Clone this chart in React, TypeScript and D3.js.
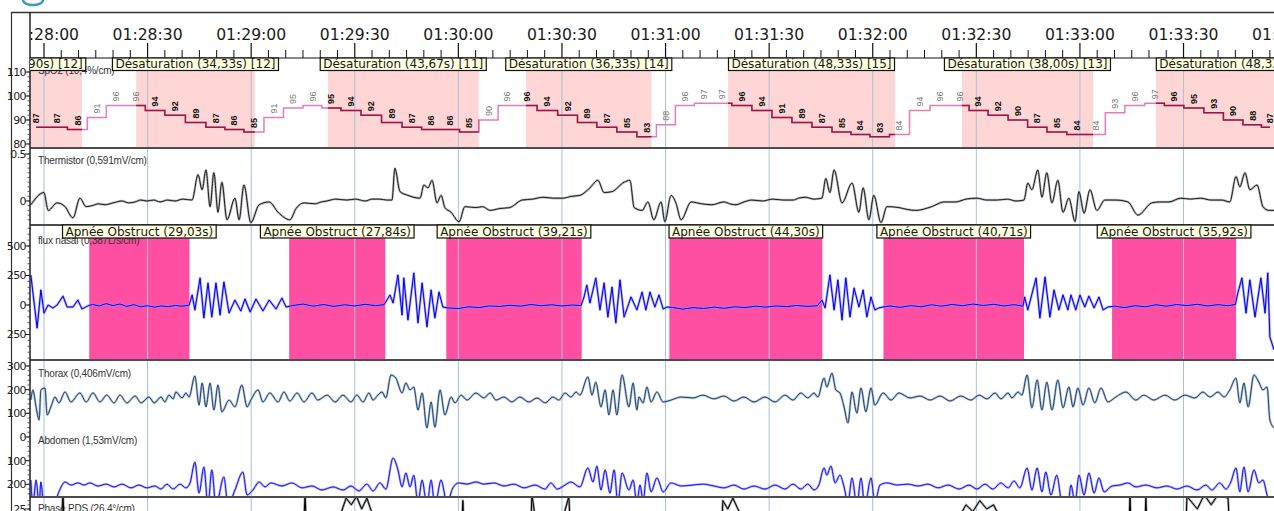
import React, { useEffect, useRef } from 'react';
import * as d3 from 'd3';

type Pt = [number, number];

// time in seconds relative to 01:28:00
const T_MIN = -4.05;
const T_MAX = 356.2;
const timeTickSecs = [0, 30, 60, 90, 120, 150, 180, 210, 240, 270, 300, 330, 360];
const timeTickLabels = ['01:28:00', '01:28:30', '01:29:00', '01:29:30', '01:30:00', '01:30:30', '01:31:00',
  '01:31:30', '01:32:00', '01:32:30', '01:33:00', '01:33:30', '01:34:00'];

// scored events
const desatStart = [-34.9, 26.7, 82.2, 139.6, 198.1, 265.8, 322.0];
const desatDur = [45.9, 34.33, 43.67, 36.33, 48.33, 38.0, 48.33];
const desatTag = [12, 12, 11, 14, 15, 13, 15];
const apneaStart = [13.1, 71.0, 116.5, 181.1, 243.1, 309.3];
const apneaDur = [29.03, 27.84, 39.21, 44.3, 40.71, 35.92];

// SpO2 samples (%)
const spo2Times = [-2.3, 3.8, 9.8, 15.3, 20.8, 26.6, 32.1, 37.9, 44.0, 49.8, 55.0, 60.8, 66.6, 72.1, 77.9, 83.1,
  88.9, 94.7, 100.8, 106.6, 112.1, 117.6, 123.1, 128.9, 134.1, 139.9, 145.7, 151.8, 157.2, 163.0, 168.8, 174.6,
  180.1, 185.6, 191.1, 196.3, 202.1, 207.9, 213.7, 219.5, 225.3, 231.1, 236.3, 242.1, 247.6, 253.7, 259.5, 265.3,
  270.5, 276.3, 282.1, 287.6, 293.3, 299.1, 304.6, 310.1, 315.9, 321.7, 327.2, 333.0, 338.8, 344.3, 350.1, 355.0];
const spo2Values = [87, 87, 86, 91, 96, 96, 94, 92, 89, 87, 86, 85, 91, 95, 96, 95,
  94, 92, 89, 87, 86, 86, 85, 90, 96, 96, 94, 92, 89, 87, 85, 83,
  88, 96, 97, 97, 96, 94, 91, 89, 87, 85, 84, 83, 84, 94, 96, 96,
  94, 92, 90, 87, 85, 84, 84, 93, 96, 97, 96, 95, 93, 90, 88, 87];

const thermistor: Pt[] = [[-3.8, -0.04], [0, 0.09], [1.2, -0.1], [3.8, -0.02], [6.1, -0.06], [8.4, -0.18], [10.4, 0.03],
  [12.2, -0.06], [13.9, -0.05], [15.8, -0.03], [17.7, -0.04], [20.0, -0.02], [22.6, 0], [24.5, -0.02], [26.4, -0.01],
  [28.0, 0.01], [29.8, 0], [31.8, 0.01], [33.6, -0.01], [35.8, 0.01], [37.9, 0], [40.2, 0.02], [42.9, 0.01],
  [44.6, 0.28], [45.8, 0.12], [46.9, 0.33], [48.1, -0.06], [49.2, 0.3], [50.4, -0.12], [51.5, 0.2], [53.0, -0.2],
  [55.3, 0.03], [56.5, -0.2], [57.9, 0.17], [59.9, -0.23], [62.3, -0.04], [65.2, -0.01], [67.8, -0.12], [71.2, -0.2],
  [73.0, -0.08], [75.3, -0.02], [78.5, -0.03], [80.3, -0.01], [81.9, 0], [84.5, 0.02], [87.7, 0.01], [90.2, 0.02],
  [93.0, 0], [95.0, 0.02], [97.3, 0.02], [99.2, 0.01], [100.8, 0.01], [101.6, 0.35], [103.1, 0.1], [105.4, 0.06],
  [108.9, 0.03], [110.0, 0.17], [111.2, 0.14], [112.4, 0.22], [113.8, -0.02], [115.0, 0.06], [116.1, -0.07],
  [117.9, -0.12], [120.2, -0.22], [121.9, -0.06], [125.1, -0.07], [127.0, -0.06], [129.2, -0.1], [132.0, -0.08],
  [134.9, -0.07], [138.4, 0.01], [141.5, 0.02], [144.5, 0.04], [147.5, 0.03], [150.3, 0.03], [152.8, 0.05],
  [155.2, 0.06], [158.1, 0.14], [160.4, 0.22], [162.2, 0.09], [164.5, 0.1], [168.0, 0.2], [169.7, 0.22],
  [170.9, -0.07], [173.2, -0.1], [174.9, -0.01], [176.6, -0.2], [178.7, -0.01], [179.8, -0.22], [181.6, 0.06],
  [183.0, -0.02], [184.5, -0.2], [187.4, -0.01], [190.5, -0.03], [193.4, -0.04], [196.9, -0.01], [198.6, -0.03],
  [200.4, -0.04], [202.7, -0.01], [205.0, 0.01], [208.0, 0], [211.1, 0.02], [214.0, 0.01], [216.9, 0.01],
  [218.6, 0.03], [220.4, 0.04], [223.0, 0.02], [225.3, 0.03], [226.4, 0.24], [227.6, 0.09], [228.8, 0.33],
  [231.1, -0.02], [234.0, 0.19], [236.0, -0.12], [237.2, 0.14], [238.9, -0.2], [240.3, 0.06], [242.4, -0.23],
  [244.1, -0.06], [247.6, -0.07], [250.0, -0.09], [252.5, -0.1], [257.1, -0.06], [260.6, -0.01], [264.1, -0.01],
  [267.0, 0.02], [270.2, 0.03], [273.0, 0.01], [276.0, 0.01], [279.0, 0.02], [281.5, 0], [283.8, 0.01],
  [284.9, 0.19], [286.1, 0.12], [287.8, 0.33], [289.0, 0.04], [290.4, 0.3], [291.9, -0.02], [293.6, 0.22],
  [295.1, -0.12], [296.8, 0.03], [298.6, -0.22], [299.7, 0.1], [301.2, -0.13], [302.9, 0.12], [304.9, -0.1],
  [307.2, 0.01], [310.4, 0.01], [313.9, -0.01], [316.8, -0.15], [320.8, -0.02], [323.0, -0.01], [325.8, -0.01],
  [329.2, 0.03], [332.0, 0.02], [335.0, 0.03], [338.0, 0.01], [341.1, 0.01], [343.4, -0.01], [345.2, 0.26],
  [346.3, 0.15], [347.8, 0.3], [349.2, 0.12], [351.3, 0.17], [353.0, -0.06], [354.7, -0.1], [356.2, -0.1]];

const fluxNasal: Pt[] = [[-3.8, 254], [-2.0, -195], [-0.9, 127], [0, -68], [1.2, 0], [2.6, -25], [3.8, 0], [5.5, 76],
  [6.7, -17], [8.4, -17], [9.8, 42], [11.0, -34], [12.7, -8],
  [14, 5], [16, -8], [18, 12], [20, -5], [22, 8], [24, -12], [26, 3], [28, -15], [30, -6], [32, -18], [34, -8],
  [36, -14], [38, -4], [40, -10], [42, -2],
  [42.9, 85], [43.7, -42], [45.2, 229], [46.3, -110], [47.5, 186], [48.6, -102], [49.8, 186], [51.0, -85],
  [52.1, 195], [53.6, -68], [55.3, 42], [57.0, -51], [58.2, 51], [59.7, -59], [61.4, 51], [63.4, -51], [65.2, 42],
  [67.2, -34], [68.9, 59], [70.1, -17],
  [72, -5], [75, 8], [78, -10], [81, 4], [84, -12], [87, 2], [90, -8], [93, 6], [96, -6], [98.5, 3],
  [100.2, 85], [101.1, 17], [102.5, 254], [103.7, -85], [104.2, 229], [105.4, -127], [107.1, 271], [108.3, -152],
  [109.5, 186], [110.9, -186], [112.1, 127], [113.2, -110], [114.4, 110], [115.5, -17],
  [117, -25], [120, -30], [123, -15], [126, -22], [129, -8], [132, -12], [135, -2], [138, -10], [141, 4], [144, -6],
  [147, 2], [150, -8], [153, 0], [155.5, -5],
  [156.4, 68], [157.2, 169], [158.1, 17], [159.8, 229], [161.0, -42], [162.2, 186], [163.3, -102], [164.5, 152],
  [165.6, -152], [166.8, 212], [168.0, -102], [170.0, 68], [171.7, -42], [173.2, 110], [174.3, -42], [175.5, 110],
  [176.9, -17], [178.1, 85], [179.3, -34], [180.4, -17],
  [182, -20], [185, -35], [188, -22], [191, -30], [194, -18], [197, -28], [200, -15], [203, -22], [206, -10],
  [209, -18], [212, -8], [215, -14], [218, -4], [221, -12], [224, -6],
  [225.3, 42], [226.2, -25], [227.6, 254], [228.8, -42], [229.9, 212], [231.1, -127], [232.2, 229], [233.4, -102],
  [234.6, 144], [236.0, -17], [237.2, 127], [238.3, -102], [239.5, 68], [240.6, -42], [241.8, -25], [243.0, -17],
  [245, -8], [248, -20], [251, -5], [254, -15], [257, 2], [260, -10], [263, 5], [266, -6], [269, 8], [272, -4],
  [275, 6], [278, -8], [281, 3], [283.5, -10],
  [284.0, 68], [284.9, -42], [287.3, 229], [288.4, -110], [289.9, 237], [291.3, -102], [292.5, 127], [293.9, -42],
  [295.1, 85], [296.5, -42], [297.4, 85], [298.8, -42], [300.0, 85], [301.4, -17], [302.6, 76], [304.1, -25],
  [305.5, 68], [306.7, -42], [308.1, -17],
  [310, -10], [313, -22], [316, -6], [319, -15], [322, 2], [325, -10], [328, 4], [331, -5], [334, 6], [337, -8],
  [340, 3], [343, -6], [345, 5],
  [345.8, 110], [346.9, 229], [348.1, -68], [349.2, 212], [350.7, -102], [352.4, 229], [353.6, -68], [354.4, 271],
  [355.0, -271], [356.2, -380]];

const thorax: Pt[] = [[-3.8, 156], [-3.2, 199], [-2.3, 127], [-1.4, 72], [-0.9, 199], [0.3, 207], [0.9, 93], [2.0, 127],
  [3.2, 169], [4.3, 144], [6.1, 190], [7.8, 148], [10.4, 186], [12.2, 148], [14.2, 186], [16.2, 148], [18.2, 177],
  [20.3, 144], [22.0, 177], [24.0, 144], [26.4, 173], [28.1, 144], [30.4, 169], [31.9, 144], [33.9, 169], [35.0, 148],
  [36.2, 177], [37.4, 161], [38.2, 190], [40.0, 165], [41.1, 186], [42.0, 169],
  [43.7, 258], [44.9, 135], [45.8, 228], [46.9, 127], [48.1, 228], [49.2, 114], [50.4, 220], [51.5, 106], [53.6, 156],
  [55.3, 127], [57.3, 220], [58.8, 127], [59.9, 156], [62.0, 199], [63.4, 148], [65.4, 186], [67.8, 148], [69.5, 190],
  [71.2, 152], [73.3, 186], [75.3, 148], [77.6, 186], [79.3, 156], [82.0, 177], [84.3, 148], [86.6, 177], [88.9, 148],
  [90.6, 177], [92.4, 148], [94.1, 186], [95.3, 156], [96.7, 177], [97.9, 190], [99.0, 165],
  [100.5, 262], [101.9, 249], [103.7, 186], [104.8, 228], [106.0, 199], [107.1, 211], [108.3, 114], [109.5, 186],
  [110.9, 38], [112.1, 148], [113.2, 42], [114.7, 199], [116.1, 93], [117.9, 169], [119.0, 144], [120.8, 177],
  [122.5, 156], [125.1, 186], [127.4, 165], [129.2, 186], [130.9, 156], [133.2, 169], [135.5, 148], [137.8, 169],
  [140.4, 148], [142.8, 165], [145.1, 144], [147.4, 169], [149.1, 156], [150.9, 186], [152.6, 169], [154.1, 190],
  [155.2, 177],
  [157.5, 254], [158.7, 177], [159.8, 232], [161.3, 127], [162.5, 199], [163.6, 93], [164.8, 199], [165.9, 93],
  [167.4, 262], [169.4, 127], [170.6, 228], [171.7, 114], [172.3, 169], [173.5, 144], [174.6, 211], [175.8, 148],
  [177.5, 190], [179.3, 148], [181.6, 156], [184.5, 169], [187.9, 165], [190.8, 177], [194.0, 161], [196.9, 173],
  [199.8, 152], [202.7, 169], [205.6, 148], [208.8, 169], [211.7, 148], [214.6, 177], [216.9, 156], [219.2, 186],
  [221.2, 165], [223.0, 186], [224.1, 169],
  [225.9, 249], [226.7, 211], [228.2, 270], [229.3, 199], [230.5, 186], [231.7, 127], [232.8, 59], [234.0, 190],
  [235.4, 101], [236.6, 207], [238.0, 106], [239.5, 207], [240.6, 135], [243.0, 186], [245.3, 156], [247.6, 186],
  [250.8, 165], [253.7, 173], [256.6, 156], [259.5, 173], [262.4, 152], [265.5, 173], [268.4, 156], [270.8, 177],
  [273.1, 161], [275.4, 186], [277.1, 161], [279.2, 186], [280.3, 165], [282.1, 190], [283.2, 177],
  [284.7, 262], [286.1, 123], [287.6, 241], [289.0, 114], [290.4, 232], [291.9, 114], [293.6, 241], [295.1, 123],
  [296.8, 211], [298.0, 127], [299.4, 207], [300.9, 135], [302.6, 207], [304.3, 144], [306.1, 207], [308.1, 148],
  [310.4, 169], [313.3, 190], [316.2, 156], [318.5, 177], [321.4, 156], [324.6, 177], [327.5, 156], [330.4, 177],
  [333.3, 165], [335.6, 190], [337.6, 169], [340.0, 190], [341.7, 169], [343.4, 199],
  [345.2, 249], [346.3, 144], [347.5, 228], [348.7, 127], [350.4, 262], [351.8, 232], [353.0, 199], [354.2, 211],
  [355.0, 72], [356.2, 38]];

const abdomen: Pt[] = [[-3.8, -182], [-3.2, -290], [-2.3, -182], [-1.4, -290], [-0.9, -190], [0, -300], [2.6, -300],
  [4.3, -232], [6.1, -190], [7.8, -203], [9.8, -194], [11.6, -203], [13.3, -194], [15.6, -207], [18.0, -199],
  [20.3, -211], [22.6, -199], [25.2, -215], [27.5, -203], [29.8, -215], [32.1, -207], [33.9, -220], [35.6, -199],
  [37.4, -220], [39.4, -199], [41.1, -215], [42.3, -194],
  [43.7, -106], [44.9, -237], [46.3, -127], [47.5, -290], [48.6, -139], [49.8, -290], [52.1, -169], [53.3, -290],
  [55.3, -224], [57.6, -148], [58.8, -245], [60.5, -224], [62.3, -190], [64.0, -211], [65.7, -194], [68.9, -207],
  [71.8, -194], [74.7, -215], [77.6, -207], [80.5, -224], [83.7, -211], [86.6, -224], [88.9, -207], [91.2, -228],
  [93.5, -199], [95.3, -228], [97.3, -194], [99.0, -220],
  [101.1, -89], [102.5, -139], [103.7, -211], [104.8, -152], [106.0, -211], [107.1, -161], [108.3, -280],
  [109.5, -182], [110.9, -290], [112.1, -182], [113.2, -290], [115.0, -182], [116.7, -280], [118.4, -215],
  [120.2, -194], [122.5, -199], [125.1, -190], [127.4, -199], [130.3, -194], [133.2, -207], [136.1, -199],
  [139.0, -215], [142.2, -203], [145.1, -220], [146.8, -194], [148.6, -220], [150.9, -203], [152.6, -190],
  [155.2, -211],
  [157.5, -131], [159.0, -190], [160.1, -123], [161.3, -224], [162.5, -139], [163.9, -237], [165.1, -139],
  [166.2, -280], [167.4, -152], [169.4, -224], [170.6, -182], [171.7, -280], [172.6, -203], [173.5, -270],
  [174.6, -152], [175.8, -232], [177.5, -173], [179.3, -232], [181.6, -194], [184.5, -207], [187.9, -203],
  [190.8, -199], [194.0, -207], [196.9, -215], [199.8, -203], [202.7, -220], [205.6, -207], [208.8, -220],
  [211.7, -203], [214.6, -220], [216.9, -199], [219.2, -220], [221.2, -199], [223.0, -224], [224.4, -203],
  [225.9, -131], [226.7, -161], [227.9, -123], [229.1, -194], [230.5, -161], [231.7, -211], [232.8, -280],
  [234.0, -173], [235.4, -290], [236.6, -173], [237.7, -290], [239.5, -173], [240.6, -280], [242.1, -203],
  [244.1, -194], [247.0, -203], [250.2, -199], [253.1, -207], [256.0, -199], [258.9, -215], [261.8, -203],
  [265.0, -220], [267.9, -203], [270.2, -220], [272.5, -199], [274.8, -220], [277.1, -194], [279.2, -215],
  [280.9, -186], [282.6, -215],
  [284.7, -131], [286.1, -224], [287.6, -131], [289.0, -232], [290.1, -148], [291.6, -245], [293.3, -161],
  [294.8, -280], [296.5, -290], [297.4, -203], [298.6, -280], [299.7, -161], [301.2, -245], [302.6, -152],
  [304.1, -237], [305.5, -173], [307.0, -232], [309.3, -207], [311.6, -203], [313.9, -194], [316.2, -211],
  [319.1, -203], [322.3, -215], [325.2, -207], [328.1, -220], [331.0, -207], [333.9, -224], [336.5, -203],
  [338.2, -224], [340.5, -194], [342.3, -220], [343.7, -190],
  [345.2, -131], [346.3, -232], [347.5, -127], [348.7, -232], [350.4, -139], [351.8, -194], [353.0, -182],
  [354.2, -245], [355.0, -280], [356.2, -290]];

const phasePds: Pt[] = [[-4, -15], [4.8, -15], [5.5, 45], [6.0, -15], [75.0, -15], [75.6, 42], [76.2, -15], [85.5, -15],
  [86.0, 20], [87.5, 38], [89, 30], [90.5, 40], [92, 25], [93.5, 38], [95, 20], [95.6, -15], [120.8, -15],
  [121.3, 35], [121.8, -15], [140.8, -15], [141.3, 42], [143, -5], [150, 10], [152, 40], [152.6, -15], [196.0, -15],
  [196.6, 35], [198, 25], [199.5, 38], [201.5, 20], [202, -15], [264.5, -15], [265, 15], [267, 30], [269, 22],
  [271, 35], [273, 25], [275, 30], [276.8, 15], [277.3, -15], [314.0, -15], [314.5, 40], [315, -15], [318.6, -15],
  [319.1, 38], [319.6, -15], [330.5, -15], [331, 40], [334, 25], [336, 42], [338, 30], [340, 42], [342.9, 38],
  [343.5, -15], [356.2, -15]];

const spo2Ticks = [80, 90, 100, 110];
const thermTicks = [0, 0.5];
const fluxTicks = [500, 250, 0, -250];
const respTicks = [300, 200, 100, 0, -100, -200];
const phaseTicks = [25];

const W = 1274;
const H = 511;
const X0 = 30;

const App = () => {
  const svgRef = useRef<SVGSVGElement>(null);

  useEffect(() => {
    document.body.style.margin = '0';
    const svg = d3.select(svgRef.current);
    svg.selectAll('*').remove();

    const x = d3.scaleLinear().domain([T_MIN, T_MAX]).range([X0, W]);
    const ySpo2 = d3.scaleLinear().domain([80, 110]).range([144, 72]);
    const yTherm = d3.scaleLinear().domain([0, 0.5]).range([201, 154]);
    const yFlux = d3.scaleLinear().domain([0, 500]).range([305, 246]);
    const yResp = d3.scaleLinear().domain([0, 300]).range([437, 366]);
    const yPhase = d3.scaleLinear().domain([0, 25]).range([530, 509]);

    const defs = svg.append('defs');
    const addClip = (id: string, y0: number, y1: number) =>
      defs.append('clipPath').attr('id', id).append('rect')
        .attr('x', X0).attr('y', y0).attr('width', W - X0).attr('height', y1 - y0);
    addClip('plotClip', 0, H);
    addClip('spo2Clip', 70, 148);
    addClip('thermClip', 149, 225);
    addClip('fluxClip', 226, 360);
    addClip('respClip', 361, 497);
    addClip('phaseClip', 498, H);
    const dClip = defs.append('clipPath').attr('id', 'desatClip');
    desatStart.forEach((s, i) => {
      dClip.append('rect').attr('x', x(s)).attr('y', 60)
        .attr('width', x(s + desatDur[i]) - x(s)).attr('height', 100);
    });

    svg.append('rect').attr('width', W).attr('height', H).attr('fill', '#fff');

    // event shading
    const shade = svg.append('g').attr('clip-path', 'url(#plotClip)');
    desatStart.forEach((s, i) => {
      shade.append('rect').attr('x', x(s)).attr('y', 70)
        .attr('width', x(s + desatDur[i]) - x(s)).attr('height', 78).attr('fill', '#ffd6d6');
    });
    apneaStart.forEach((s, i) => {
      shade.append('rect').attr('x', x(s)).attr('y', 238)
        .attr('width', x(s + apneaDur[i]) - x(s)).attr('height', 122).attr('fill', '#ff4fa2');
    });

    // 30 s grid
    svg.append('g').selectAll('line')
      .data(timeTickSecs.filter(t => x(t) >= X0 && x(t) <= W))
      .enter().append('line')
      .attr('x1', d => x(d)).attr('x2', d => x(d))
      .attr('y1', 58).attr('y2', H)
      .attr('stroke', '#a6c3d8').attr('stroke-width', 1);

    // channel titles
    const titles: [string, number][] = [
      ['SpO2 (10,4%/cm)', 74], ['Thermistor (0,591mV/cm)', 164], ['flux nasal (0,387L/s/cm)', 244],
      ['Thorax (0,406mV/cm)', 377], ['Abdomen (1,53mV/cm)', 444], ['Phase PDS (26,4°/cm)', 512]];
    svg.append('g').selectAll('text').data(titles).enter().append('text')
      .attr('x', 38).attr('y', d => d[1]).text(d => d[0])
      .attr('font-family', 'Liberation Sans, Arial, sans-serif').attr('font-size', 10)
      .attr('letter-spacing', -0.2).attr('fill', '#333');

    // signals
    const drawSignal = (data: Pt[], y: d3.ScaleLinear<number, number>, clipId: string,
      halo: string, color: string, curve: d3.CurveFactory) => {
      const line = d3.line<Pt>().x(d => x(d[0])).y(d => y(d[1])).curve(curve);
      const g = svg.append('g').attr('clip-path', `url(#${clipId})`);
      g.append('path').attr('d', line(data)).attr('fill', 'none').attr('stroke', halo)
        .attr('stroke-width', 2.4).attr('stroke-linejoin', 'round').attr('opacity', 0.8);
      g.append('path').attr('d', line(data)).attr('fill', 'none').attr('stroke', color)
        .attr('stroke-width', 1).attr('stroke-linejoin', 'round');
    };
    drawSignal(thermistor, yTherm, 'thermClip', '#a8a8a8', '#1a1a1a', d3.curveMonotoneX);
    drawSignal(fluxNasal, yFlux, 'fluxClip', '#8f8fff', '#0000f0', d3.curveLinear);
    drawSignal(thorax, yResp, 'respClip', '#9fb2cc', '#1d446f', d3.curveMonotoneX);
    drawSignal(abdomen, yResp, 'respClip', '#9c9cff', '#1414f0', d3.curveMonotoneX);
    drawSignal(phasePds, yPhase, 'phaseClip', '#888', '#000', d3.curveLinear);

    // SpO2 trace: pink outside desaturations, dark red inside
    const spo2Pts: Pt[] = spo2Times.map((t, i) => [t, spo2Values[i]]);
    const spo2Line = d3.line<Pt>().x(d => x(d[0])).y(d => ySpo2(d[1])).curve(d3.curveStep);
    const sg = svg.append('g').attr('clip-path', 'url(#spo2Clip)');
    sg.append('path').attr('d', spo2Line(spo2Pts)).attr('fill', 'none')
      .attr('stroke', '#e07cc0').attr('stroke-width', 1.5);
    sg.append('g').attr('clip-path', 'url(#desatClip)').append('path').attr('d', spo2Line(spo2Pts))
      .attr('fill', 'none').attr('stroke', '#9c1840').attr('stroke-width', 1.5);
    const inDesat = (t: number) => desatStart.some((s, i) => t >= s && t <= s + desatDur[i]);
    sg.selectAll('text.v').data(spo2Pts).enter().append('text')
      .attr('transform', d => `translate(${x(d[0])},${ySpo2(d[1]) - 4}) rotate(-90)`)
      .attr('dy', '0.35em').attr('text-anchor', 'start')
      .attr('font-family', 'Liberation Sans, Arial, sans-serif').attr('font-size', 9)
      .attr('font-weight', d => (inDesat(d[0]) ? 700 : 400))
      .attr('fill', d => (inDesat(d[0]) ? '#111' : '#777'))
      .text(d => String(d[1]));

    // panel separators
    svg.append('g').selectAll('line').data([148, 225, 360, 497]).enter().append('line')
      .attr('x1', X0).attr('x2', W).attr('y1', d => d).attr('y2', d => d)
      .attr('stroke', '#4d4d4d').attr('stroke-width', 2);

    // frame
    svg.append('line').attr('x1', 11).attr('x2', W).attr('y1', 12.5).attr('y2', 12.5)
      .attr('stroke', '#333').attr('stroke-width', 1.5);
    svg.append('line').attr('x1', 11.5).attr('x2', 11.5).attr('y1', 12).attr('y2', H)
      .attr('stroke', '#333').attr('stroke-width', 1.2);
    svg.append('line').attr('x1', X0).attr('x2', X0).attr('y1', 12).attr('y2', H)
      .attr('stroke', '#222').attr('stroke-width', 1.5);

    // value axes
    const yAxis = (scale: d3.ScaleLinear<number, number>, majors: number[], step: number,
      y0: number, y1: number) => {
      const a = scale.invert(y1);
      const b = scale.invert(y0);
      const lo = Math.ceil(Math.min(a, b) / step);
      const hi = Math.floor(Math.max(a, b) / step);
      const g = svg.append('g');
      d3.range(lo, hi + 1).forEach(k => {
        const yy = scale(k * step);
        g.append('line').attr('x1', 27.5).attr('x2', X0).attr('y1', yy).attr('y2', yy)
          .attr('stroke', '#333').attr('stroke-width', 0.8);
      });
      majors.forEach(v => {
        const yy = scale(v);
        g.append('line').attr('x1', 25).attr('x2', X0).attr('y1', yy).attr('y2', yy)
          .attr('stroke', '#222').attr('stroke-width', 1);
        g.append('text').attr('x', 26).attr('y', yy).attr('dy', '0.35em').attr('text-anchor', 'end')
          .attr('font-family', 'DejaVu Sans, sans-serif').attr('font-size', 11)
          .attr('letter-spacing', -0.6).attr('fill', '#222')
          .text(String(Math.abs(v)));
      });
    };
    yAxis(ySpo2, spo2Ticks, 2, 71, 147);
    yAxis(yTherm, thermTicks, 0.05, 150, 224);
    yAxis(yFlux, fluxTicks, 50, 227, 359);
    yAxis(yResp, respTicks, 20, 362, 496);
    yAxis(yPhase, phaseTicks, 5, 499, H);

    // time axis
    const ta = svg.append('g').attr('clip-path', 'url(#plotClip)');
    ta.append('line').attr('x1', X0).attr('x2', W).attr('y1', 58).attr('y2', 58)
      .attr('stroke', '#111').attr('stroke-width', 1.2);
    d3.range(-5, 361, 5).filter(t => t % 30 !== 0).forEach(t => {
      ta.append('line').attr('x1', x(t)).attr('x2', x(t)).attr('y1', 50).attr('y2', 58)
        .attr('stroke', '#111').attr('stroke-width', 1);
    });
    timeTickSecs.forEach((t, i) => {
      ta.append('line').attr('x1', x(t)).attr('x2', x(t)).attr('y1', 43).attr('y2', 58)
        .attr('stroke', '#111').attr('stroke-width', 1.2);
      ta.append('text').attr('x', x(t)).attr('y', 40).attr('text-anchor', 'middle')
        .attr('font-family', 'DejaVu Sans, sans-serif').attr('font-size', 15.6).attr('fill', '#1a1a1a')
        .text(timeTickLabels[i]);
    });

    // event labels
    const fmt = (d: number) => d.toFixed(2).replace('.', ',');
    const addBox = (cx: number, yTop: number, h: number, label: string) => {
      const g = svg.append('g').attr('clip-path', 'url(#plotClip)');
      const rect = g.append('rect');
      const txt = g.append('text').attr('x', cx).attr('y', yTop + h - 2.5).attr('text-anchor', 'middle')
        .attr('font-family', 'DejaVu Sans, sans-serif').attr('font-size', 12).attr('fill', '#1a1a1a')
        .text(label);
      const w = (txt.node() as SVGTextElement).getComputedTextLength();
      rect.attr('x', cx - w / 2 - 3).attr('y', yTop).attr('width', w + 6).attr('height', h)
        .attr('fill', '#ffffe1').attr('stroke', '#111').attr('stroke-width', 1.2);
    };
    desatStart.forEach((s, i) => {
      addBox(x(s + desatDur[i] / 2), 58, 12.5, `Désaturation (${fmt(desatDur[i])}s) [${desatTag[i]}]`);
    });
    apneaStart.forEach((s, i) => {
      addBox(x(s + apneaDur[i] / 2), 225, 13, `Apnée Obstruct (${fmt(apneaDur[i])}s)`);
    });

    // logo fragment at top left
    svg.append('path').attr('d', 'M 23 0 A 10 5 0 0 0 43 0').attr('fill', 'none')
      .attr('stroke', '#3b9cc0').attr('stroke-width', 2.5);
  }, []);

  return <svg ref={svgRef} width={W} height={H} style={{ display: 'block' }} />;
};

export default App;
